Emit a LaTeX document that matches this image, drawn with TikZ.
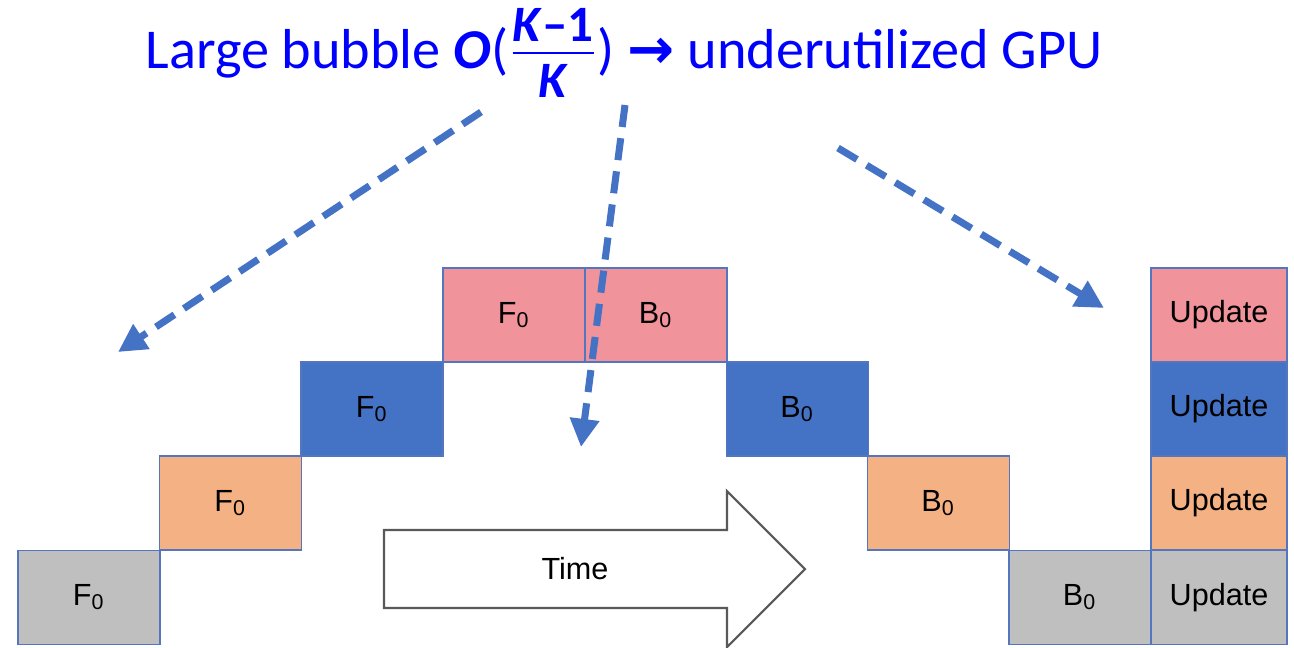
\documentclass[tikz,border=0pt]{standalone}
\usepackage{fontspec}
\setmainfont{Liberation Sans}
\newfontfamily\titlefont{Carlito}
\newfontfamily\arrowfont{DejaVu Sans}
\usetikzlibrary{arrows.meta}
\definecolor{stagePink}{RGB}{240,147,155}
\definecolor{stageBlue}{RGB}{68,114,196}
\definecolor{stageOrange}{RGB}{244,177,131}
\definecolor{stageGrey}{RGB}{191,191,191}
\definecolor{stageEdge}{RGB}{84,118,190}
\definecolor{titleBlue}{RGB}{0,0,255}
\definecolor{timeEdge}{RGB}{89,89,89}
\newcommand{\fracfont}{\fontsize{14.5}{14.5}\selectfont\bfseries}

\tikzset{
  blk/.style={draw=stageEdge, line width=0.45pt, inner sep=0pt,
    minimum width=1.42cm, minimum height=0.94cm,
    font=\fontsize{8.7}{10}\selectfont},
  updblk/.style={blk, minimum width=1.36cm},
  bubble/.style={draw=stageBlue, line width=2pt, dash pattern=on 6.3pt off 3.2pt,
    -{Triangle[length=8pt,width=8pt]}},
  timeline/.style={draw=timeEdge, line width=0.6pt, fill=white}
}

\begin{document}
\begin{tikzpicture}[x=0.01cm, y=-0.01cm]
    \useasboundingbox (0,0) rectangle (1294,647);
    % forward pass
    \node[blk, fill=stageGrey]   (F1) at (89,597.5)  {F\textsubscript{0}};
    \node[blk, fill=stageOrange] (F2) at (230.5,503) {F\textsubscript{0}};
    \node[blk, fill=stageBlue]   (F3) at (372,409)   {F\textsubscript{0}};
    \node[blk, fill=stagePink]   (F4) at (514,315)   {F\textsubscript{0}};
    % backward pass
    \node[blk, fill=stagePink]   (B4) at (656,315)    {B\textsubscript{0}};
    \node[blk, fill=stageBlue]   (B3) at (797.5,409)  {B\textsubscript{0}};
    \node[blk, fill=stageOrange] (B2) at (938.5,503)  {B\textsubscript{0}};
    \node[blk, fill=stageGrey]   (B1) at (1080,597.5) {B\textsubscript{0}};
    % updates
    \node[updblk, fill=stagePink]   (U4) at (1219,315)   {Update};
    \node[updblk, fill=stageBlue]   (U3) at (1219,409)   {Update};
    \node[updblk, fill=stageOrange] (U2) at (1219,503)   {Update};
    \node[updblk, fill=stageGrey]   (U1) at (1219,597.5) {Update};
    % time arrow
    \draw[timeline] (384,530) -- (727,530) -- (727,491) -- (805,569)
        -- (727,647) -- (727,608) -- (384,608) -- cycle;
    \node[font=\fontsize{8.7}{10}\selectfont] (time) at (575,569) {Time};
    % title
    \node[anchor=base, text=titleBlue, font=\titlefont\fontsize{16}{18}\selectfont] (head) at (624,68)
        {Large bubble \textbf{\textit{O}}(\(\textstyle\frac{\mbox{\fracfont\textit{K}–1\rule[-2.5pt]{0pt}{2.5pt}}}{\mbox{\fracfont\rule{0pt}{12pt}\textit{K}}}\)) {\arrowfont\bfseries →} underutilized GPU};
    \coordinate (L0) at (481,112);  \coordinate (L1) at (118,352);
    \coordinate (M0) at (625,105);  \coordinate (M1) at (581,447);
    \coordinate (R0) at (838,148);  \coordinate (R1) at (1104,308);
    \draw[bubble] (L0) -- (L1);
    \draw[bubble] (M0) -- (M1);
    \draw[bubble] (R0) -- (R1);
\end{tikzpicture}
\end{document}
